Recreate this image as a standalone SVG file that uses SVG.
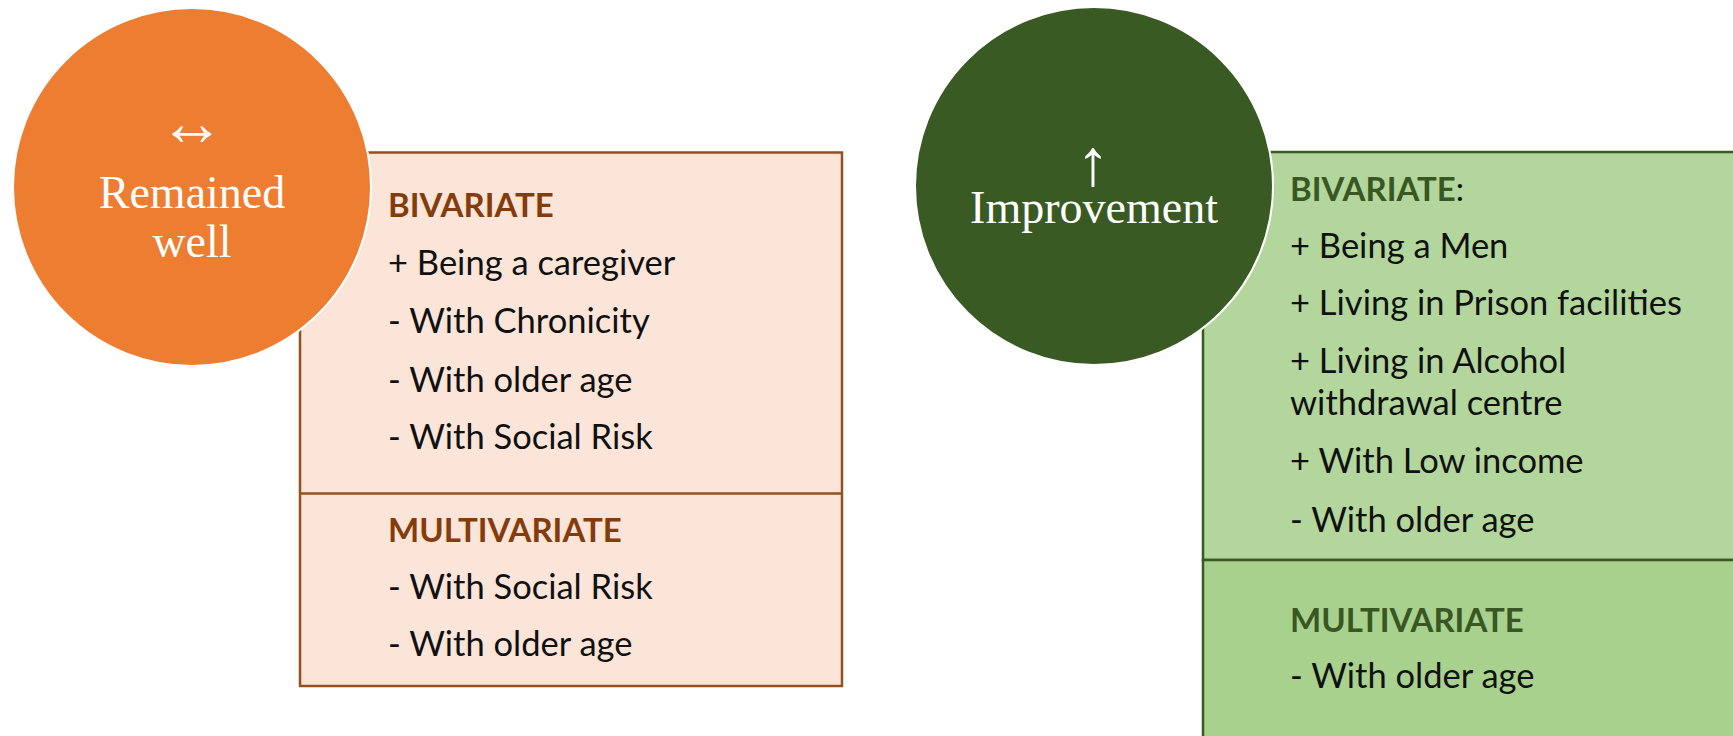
<svg xmlns="http://www.w3.org/2000/svg" width="1733" height="736" viewBox="0 0 1733 736">
<style>
.item{font-family:Lato,"Open Sans",sans-serif;font-size:34.5px;fill:#111}
.hL{font-family:Lato,"Open Sans",sans-serif;font-size:33px;font-weight:bold;fill:#843C0C}
.hR{font-family:Lato,"Open Sans",sans-serif;font-size:33px;font-weight:bold;fill:#385723}
.ctext{font-family:"Liberation Serif","Times New Roman",serif;font-size:46px;fill:#fff;text-anchor:middle}
.arrow{font-family:"Liberation Serif","Times New Roman",serif;font-size:66px;fill:#fff;text-anchor:middle}
</style>
<rect width="1733" height="736" fill="#fff"/>
<g id="box-left">
<rect x="300" y="152.5" width="542" height="533.5" fill="#FBE5D9" stroke="#94501F" stroke-width="2.5"/>
<line x1="300" y1="493.5" x2="842" y2="493.5" stroke="#94501F" stroke-width="2.5"/>
<text class="hL" x="388" y="217">BIVARIATE</text>
<text class="item" x="388" y="275">+ Being a caregiver</text>
<text class="item" x="388" y="333">- With Chronicity</text>
<text class="item" x="388" y="392">- With older age</text>
<text class="item" x="388" y="449">- With Social Risk</text>
<text class="hL" x="388" y="542">MULTIVARIATE</text>
<text class="item" x="388" y="599">- With Social Risk</text>
<text class="item" x="388" y="656">- With older age</text>
</g>
<g id="circle-left">
<circle cx="192" cy="187" r="179" fill="#ED7D31" stroke="#fff" stroke-width="2"/>
<text class="arrow" x="192" y="145" font-size="76" font-weight="bold">↔</text>
<text class="ctext" x="192" y="208">Remained</text>
<text class="ctext" x="192" y="257">well</text>
</g>
<g id="box-right">
<rect x="1203" y="152" width="545" height="408" fill="#B3D69C" stroke="#3A5A24" stroke-width="2.5"/>
<rect x="1203" y="560" width="545" height="190" fill="#A9D18E" stroke="#3A5A24" stroke-width="2.5"/>
<text class="hR" x="1290" y="201">BIVARIATE<tspan font-weight="normal" fill="#111">:</tspan></text>
<text class="item" x="1290" y="258">+ Being a Men</text>
<text class="item" x="1290" y="315">+ Living in Prison facilities</text>
<text class="item" x="1290" y="373">+ Living in Alcohol</text>
<text class="item" x="1290" y="415">withdrawal centre</text>
<text class="item" x="1290" y="473">+ With Low income</text>
<text class="item" x="1290" y="532">- With older age</text>
<text class="hR" x="1290" y="632">MULTIVARIATE</text>
<text class="item" x="1290" y="688">- With older age</text>
</g>
<g id="circle-right">
<circle cx="1094" cy="186" r="179" fill="#3A5A24" stroke="#fff" stroke-width="2"/>
<text class="arrow" x="1093" y="185">↑</text>
<text class="ctext" x="1094" y="223">Improvement</text>
</g>
<g id="connectors"/>
</svg>
